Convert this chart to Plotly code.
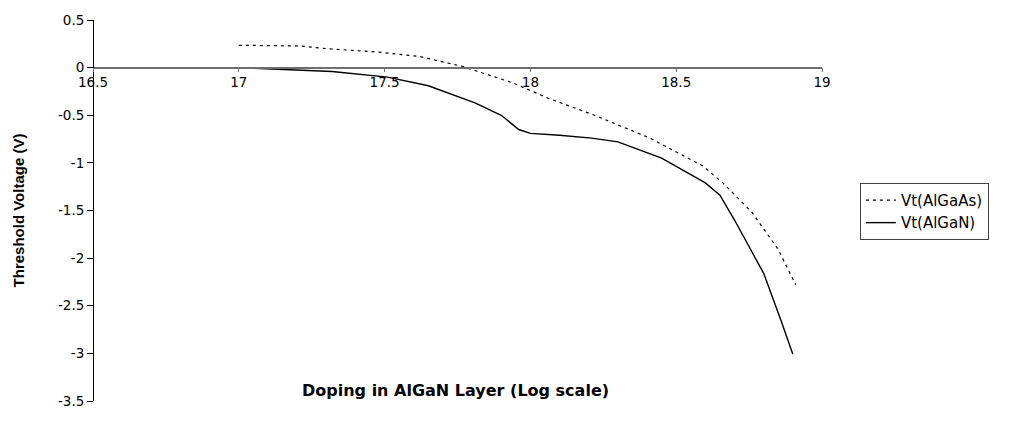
import plotly.graph_objects as go

# Log10 of AlGaN doping (cm^-3) and threshold voltages (V)
doping_algaas = [17.00, 17.21, 17.30, 17.49, 17.62, 17.77, 17.94, 18.06, 18.22,
                 18.41, 18.59, 18.66, 18.76, 18.85, 18.91]
vt_algaas = [0.235, 0.227, 0.20, 0.16, 0.117, 0.01, -0.16, -0.32, -0.50,
             -0.74, -1.03, -1.21, -1.52, -1.91, -2.28]

doping_algan = [17.00, 17.16, 17.32, 17.51, 17.65, 17.81, 17.90, 17.96, 18.00,
                18.10, 18.21, 18.30, 18.45, 18.60, 18.65, 18.70, 18.74, 18.80,
                18.86, 18.90]
vt_algan = [0.00, -0.02, -0.04, -0.10, -0.19, -0.37, -0.50, -0.65, -0.69,
            -0.71, -0.74, -0.78, -0.95, -1.21, -1.34, -1.60, -1.83, -2.16,
            -2.66, -3.01]

x_ticks = [16.5, 17, 17.5, 18, 18.5, 19]
y_ticks = [0.5, 0, -0.5, -1, -1.5, -2, -2.5, -3, -3.5]

Y_MIN, Y_MAX = -3.5, 0.5
tick_font = dict(family="DejaVu Sans", size=13.5, color="black")

fig = go.Figure()
fig.add_trace(go.Scatter(
    x=doping_algaas, y=vt_algaas, mode="lines", name="Vt(AlGaAs)",
    line=dict(color="black", width=1.2, dash="3px,4px"),
))
fig.add_trace(go.Scatter(
    x=doping_algan, y=vt_algan, mode="lines", name="Vt(AlGaN)",
    line=dict(color="black", width=1.4),
))

# x axis crosses the y axis at V = 0
x_cross = (0 - Y_MIN) / (Y_MAX - Y_MIN)

fig.update_layout(
    width=1032, height=427,
    margin=dict(l=93, r=210, t=15, b=26),
    paper_bgcolor="white", plot_bgcolor="white",
    showlegend=True,
    legend=dict(
        x=1.052, y=0.5725, xanchor="left", yanchor="top",
        bordercolor="#444", borderwidth=1, bgcolor="white",
        font=dict(family="DejaVu Sans", size=15, color="black"),
        tracegroupgap=0, itemwidth=30,
    ),
    xaxis=dict(
        range=[16.5, 19], tickvals=x_ticks,
        ticktext=[f"{v:g}" for v in x_ticks],
        anchor="free", position=x_cross,
        showline=True, linecolor="#6e6e6e", linewidth=1.5,
        ticks="outside", ticklen=4, tickcolor="#6e6e6e",
        ticklabelstandoff=-2,
        showgrid=False, zeroline=False, tickfont=tick_font,
    ),
    yaxis=dict(
        range=[Y_MIN, Y_MAX], tickvals=y_ticks,
        ticktext=[f"{v:g}" for v in y_ticks],
        anchor="free", position=0,
        showline=True, linecolor="black", linewidth=1,
        ticks="outside", ticklen=6, tickcolor="black",
        showgrid=False, zeroline=False, tickfont=tick_font,
        title=dict(text="<b>Threshold Voltage (V)</b>",
                   font=dict(family="Liberation Sans", size=15, color="black"),
                   standoff=28),
    ),
    annotations=[dict(
        text="<b>Doping in AlGaN Layer (Log scale)</b>",
        xref="paper", yref="paper", x=0.497, y=0.028,
        xanchor="center", yanchor="middle", showarrow=False,
        font=dict(family="DejaVu Sans", size=16, color="black"),
    )],
)

fig.write_html("out.html")
